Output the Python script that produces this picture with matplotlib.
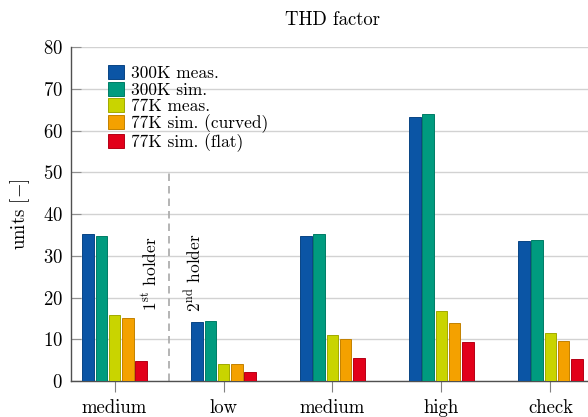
import numpy as np
import matplotlib
matplotlib.use('Agg')
import matplotlib.pyplot as plt
from matplotlib.colors import to_rgb

plt.rcParams['font.family'] = ['cmr10', 'DejaVu Serif']
plt.rcParams['mathtext.fontset'] = 'cm'
plt.rcParams['axes.formatter.use_mathtext'] = True

categories = ['medium', 'low', 'medium', 'high', 'check']
series_names = ['300K meas.', '300K sim.', '77K meas.', '77K sim. (curved)', '77K sim. (flat)']
meas_300k = [35.1, 14.2, 34.7, 63.3, 33.5]
sim_300k = [34.8, 14.4, 35.1, 63.9, 33.7]
meas_77k = [15.9, 4.1, 11.0, 16.8, 11.5]
sim_77k_curved = [15.2, 4.1, 10.0, 13.9, 9.6]
sim_77k_flat = [4.9, 2.2, 5.4, 9.3, 5.2]
colors = ['#0b55a5', '#009b7f', '#c9d400', '#f4a100', '#e2001a']

series = [meas_300k, sim_300k, meas_77k, sim_77k_curved, sim_77k_flat]

def darker(c, f=0.8):
    r, g, b = to_rgb(c)
    return (r * f, g * f, b * f)

fig = plt.figure(figsize=(5.88, 4.17), dpi=100)
ax = fig.add_axes([0.1207, 0.0863, 0.8895, 0.801])

x = np.arange(len(categories))
pitch = 0.122
width = 0.105
for i, (vals, name, c) in enumerate(zip(series, series_names, colors)):
    ax.bar(x + (i - 2) * pitch, vals, width, color=c, edgecolor=darker(c),
           linewidth=0.7, label=name, zorder=3)

# separator between the two holders
ax.plot([0.5, 0.5], [0, 50], color='#a8a8a8', lw=1.2, dashes=(4.5, 3), zorder=2)
ax.text(0.32, 16.8, r'$1^{\mathrm{st}}$ holder', rotation=90, ha='center',
        va='bottom', fontsize=12.5)
ax.text(0.722, 16.6, r'$2^{\mathrm{nd}}$ holder', rotation=90, ha='center',
        va='bottom', fontsize=12.5)

ax.set_xlim(-0.4, 4.4)
ax.set_ylim(0, 80)
ax.set_yticks(np.arange(0, 81, 10))
ax.set_xticks(x)
ax.set_xticklabels(categories)
ax.grid(axis='y', color='#d2d2d2', lw=1.0, zorder=0)
ax.set_axisbelow(True)

for s in ['top', 'right']:
    ax.spines[s].set_visible(False)
for s in ['left', 'bottom']:
    ax.spines[s].set_color('#505050')
    ax.spines[s].set_linewidth(1.0)

ax.tick_params(axis='y', direction='in', length=7.5, width=0.8, color='#909090',
               labelsize=13.5, pad=6)
ax.tick_params(axis='x', direction='out', length=8, width=0.8, color='#808080',
               labelsize=13.5, pad=5)

ax.set_title('THD factor', fontsize=13.5, pad=16)
ax.set_ylabel(r'units [$-$]', fontsize=13.5)
ax.yaxis.set_label_coords(-0.074, 0.5)

ax.legend(loc='upper left', bbox_to_anchor=(0.0707, 0.945), frameon=False,
          fontsize=12.5, borderpad=0, borderaxespad=0, handlelength=0.95,
          handleheight=0.87, labelspacing=0.02, handletextpad=0.4)

fig.savefig('out.png', dpi=100)
